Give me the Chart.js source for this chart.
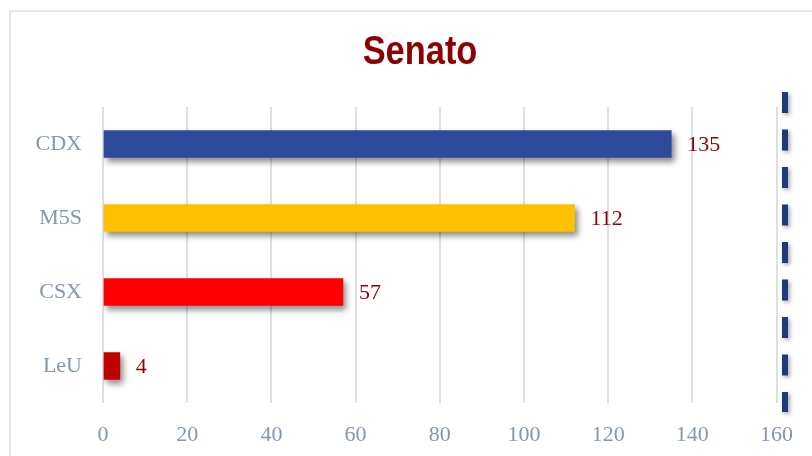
<!DOCTYPE html>
<html>
<head>
<meta charset="utf-8">
<script src="https://cdn.jsdelivr.net/npm/chart.js@4"></script>
<style>
  body { margin: 0; background: #fff; }
  #wrap { position: relative; width: 812px; height: 456px; overflow: hidden; }
  #frame { position: absolute; left: 9px; top: 10px; width: 900px; height: 600px; border: 2px solid #e3e6ea; }
  #senato { position: absolute; left: 0; top: 0; }
</style>
</head>
<body>
<div id="wrap">
  <div id="frame"></div>
  <canvas id="senato" width="812" height="456"></canvas>
</div>
<script>
const parties = ['CDX', 'M5S', 'CSX', 'LeU'];
const seats = [135, 112, 57, 4];
const barColors = ['#2E4A9A', '#FFC000', '#FF0000', '#C00000'];
const xMax = 160;
const xStep = 20;
const chartTitle = 'Senato';

const serif = "'Liberation Serif', 'DejaVu Serif', serif";
const labelRed = '#8B0000';
const tickGray = '#8497AC';

// shadow under the bars
const barShadow = {
    id: 'barShadow',
    beforeDatasetDraw(chart) {
        const ctx = chart.ctx;
        ctx.save();
        ctx.shadowColor = 'rgba(0,0,0,0.45)';
        ctx.shadowBlur = 6;
        ctx.shadowOffsetX = 3;
        ctx.shadowOffsetY = 4;
    },
    afterDatasetDraw(chart) {
        chart.ctx.restore();
    }
};

// title, a bit narrower than the stock bold sans (the original is Calibri-ish)
const narrowTitle = {
    id: 'narrowTitle',
    afterDraw(chart) {
        const ctx = chart.ctx;
        ctx.save();
        ctx.translate(chart.width / 2 + 14, 53);
        ctx.scale(0.86, 1);
        ctx.font = "bold 40px 'Liberation Sans', Arial, sans-serif";
        ctx.fillStyle = labelRed;
        ctx.textAlign = 'center';
        ctx.textBaseline = 'middle';
        ctx.fillText(chartTitle, 0, 0);
        ctx.restore();
    }
};

// value labels + dashed line on the right
const extras = {
    id: 'extras',
    afterDatasetsDraw(chart) {
        const ctx = chart.ctx;
        const area = chart.chartArea;
        const meta = chart.getDatasetMeta(0);
        ctx.save();
        ctx.font = '22px ' + serif;
        ctx.fillStyle = labelRed;
        ctx.textAlign = 'left';
        ctx.textBaseline = 'middle';
        meta.data.forEach((bar, i) => {
            ctx.fillText(seats[i], bar.x + 16, bar.y + 1);
        });
        ctx.restore();

        const x = chart.scales.x.getPixelForValue(xMax) + 8.5;
        ctx.save();
        ctx.strokeStyle = '#1F3A78';
        ctx.lineWidth = 6;
        ctx.setLineDash([21, 16.5]);
        ctx.shadowColor = 'rgba(0,0,0,0.35)';
        ctx.shadowBlur = 4;
        ctx.shadowOffsetX = 2;
        ctx.shadowOffsetY = 2;
        ctx.beginPath();
        ctx.moveTo(x, area.top - 15);
        ctx.lineTo(x, area.bottom + 9);
        ctx.stroke();
        ctx.restore();
    }
};

new Chart(document.getElementById('senato'), {
    type: 'bar',
    data: {
        labels: parties,
        datasets: [{
            data: seats,
            backgroundColor: barColors,
            barThickness: 27
        }]
    },
    options: {
        indexAxis: 'y',
        responsive: false,
        animation: false,
        devicePixelRatio: 1,
        layout: { padding: { left: 20, right: 34, top: 107, bottom: 0 } },
        plugins: {
            legend: { display: false },
            tooltip: { enabled: false },
            title: { display: false }
        },
        scales: {
            x: {
                min: 0,
                max: xMax,
                ticks: { stepSize: xStep, color: tickGray, font: { family: serif, size: 22 }, padding: 19 },
                grid: { color: '#DCE0E5', lineWidth: 2, drawTicks: false },
                border: { display: false },
                afterFit(axis) { axis.height = 53; }
            },
            y: {
                ticks: { color: tickGray, font: { family: serif, size: 22 }, padding: 21 },
                grid: { display: false, drawTicks: false },
                border: { display: false },
                afterFit(axis) { axis.width = 83; }
            }
        }
    },
    plugins: [barShadow, extras, narrowTitle]
});
</script>
</body>
</html>
